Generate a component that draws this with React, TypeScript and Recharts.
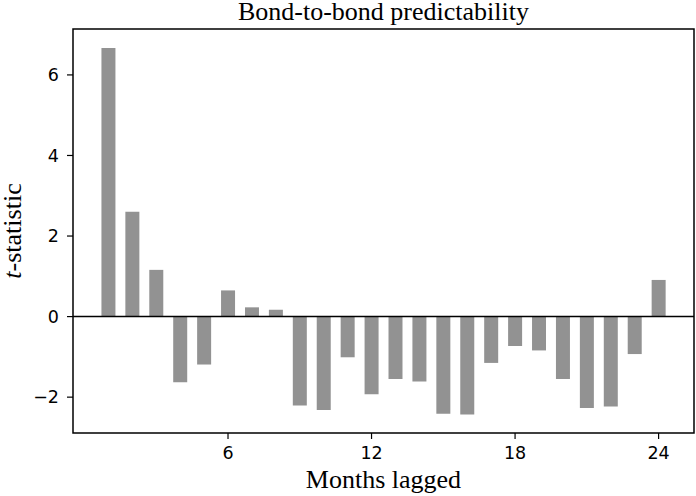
import {
  BarChart,
  Bar,
  XAxis,
  YAxis,
  ReferenceLine,
  ReferenceArea,
  Customized,
} from "recharts";

// lag (months) and the t-statistic of each lagged regression
const months = [
  1, 2, 3, 4, 5, 6, 7, 8, 9, 10, 11, 12, 13, 14, 15, 16, 17, 18, 19, 20, 21,
  22, 23, 24,
];
const tStats = [
  6.67, 2.6, 1.16, -1.63, -1.19, 0.65, 0.23, 0.17, -2.21, -2.32, -1.01, -1.93,
  -1.55, -1.61, -2.41, -2.43, -1.15, -0.73, -0.84, -1.55, -2.27, -2.23, -0.93,
  0.91,
];
const xTicks = [6, 12, 18, 24];
const yTicks = [-2, 0, 2, 4, 6];

const xDomain = [-0.48, 25.48];
const yDomain = [-2.89, 7.14];

const data = months.map((m, i) => ({ month: m, t: tStats[i] }));

const tickFont = { fontFamily: "DejaVu Sans", fontSize: 17.5, fill: "#000" };
const serif = "Liberation Serif";

const fmt = (v: number) => (v < 0 ? `\u2212${Math.abs(v)}` : `${v}`);

const Texts = () => (
  <g>
    <text
      x={383.5}
      y={20}
      textAnchor="middle"
      fontFamily={serif}
      fontSize={26}
      fill="#000"
    >
      Bond-to-bond predictability
    </text>
    <text
      x={383.5}
      y={488}
      textAnchor="middle"
      fontFamily={serif}
      fontSize={26}
      fill="#000"
    >
      Months lagged
    </text>
    <text
      transform="translate(21, 231) rotate(-90)"
      textAnchor="middle"
      fontFamily={serif}
      fontSize={26}
      fill="#000"
    >
      <tspan fontStyle="italic">t</tspan>
      <tspan>-statistic</tspan>
    </text>
  </g>
);

export default function App() {
  return (
    <div style={{ position: "absolute", left: 0, top: 0, background: "#fff" }}>
      <BarChart
        width={696}
        height={496}
        data={data}
        margin={{ top: 29, right: 2, bottom: 0, left: 0 }}
      >
        <XAxis
          dataKey="month"
          type="number"
          domain={xDomain}
          ticks={xTicks}
          allowDataOverflow
          height={63}
          tick={tickFont}
          tickSize={6}
          tickMargin={8}
          axisLine={false}
          tickLine={{ stroke: "#000", strokeWidth: 1.2 }}
        />
        <YAxis
          type="number"
          domain={yDomain}
          ticks={yTicks}
          allowDataOverflow
          width={73}
          tick={tickFont}
          tickFormatter={fmt}
          tickSize={6}
          tickMargin={8}
          axisLine={false}
          tickLine={{ stroke: "#000", strokeWidth: 1.2 }}
        />
        <Bar
          dataKey="t"
          fill="#929292"
          barSize={14}
          isAnimationActive={false}
        />
        <ReferenceLine y={0} stroke="#000" strokeWidth={1.5} />
        {/* axes frame */}
        <ReferenceArea
          x1={xDomain[0]}
          x2={xDomain[1]}
          y1={yDomain[0]}
          y2={yDomain[1]}
          fill="none"
          fillOpacity={0}
          stroke="#000"
          strokeWidth={1.5}
          ifOverflow="visible"
        />
        <Customized component={Texts} />
      </BarChart>
    </div>
  );
}
